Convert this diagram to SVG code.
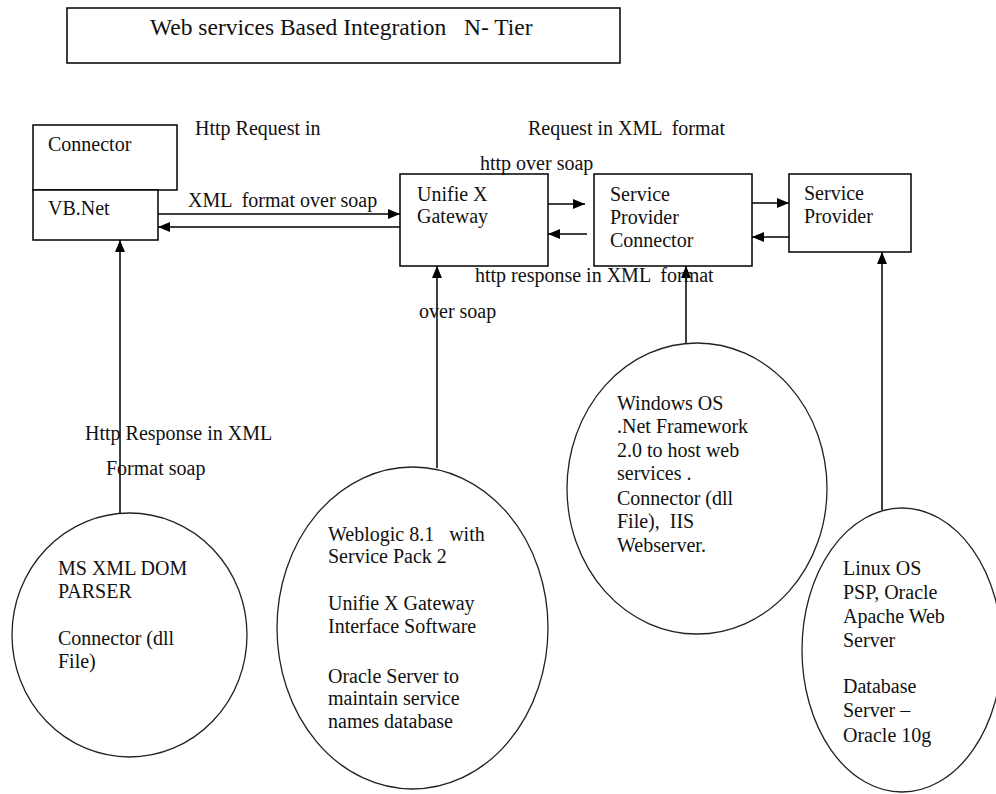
<svg xmlns="http://www.w3.org/2000/svg" width="996" height="794" viewBox="0 0 996 794" xml:space="preserve">
<style>
text{font-family:"Liberation Serif","Times New Roman",serif;font-size:20px;fill:#111;white-space:pre}
.box{fill:#fff;stroke:#000;stroke-width:1.5}
.ell{fill:#fff;stroke:#222;stroke-width:1.3}
.ln{stroke:#000;stroke-width:1.5;fill:none}
.title{font-size:23.5px}
</style>
<defs>
<marker id="ah" viewBox="0 0 12 10" refX="12" refY="5" markerWidth="12" markerHeight="10" markerUnits="userSpaceOnUse" orient="auto">
<path d="M0,0 L12,5 L0,10 z" fill="#000"/>
</marker>
</defs>
<rect width="996" height="794" fill="#fff"/>
<g id="title">
<rect class="box" x="67" y="8" width="553" height="55"/>
<text class="title" x="150" y="35">Web services Based Integration   N- Tier</text>
</g>
<g id="connector">
<rect class="box" x="33" y="125" width="144" height="65"/>
<text x="48" y="151">Connector</text>
</g>
<g id="vbnet">
<rect class="box" x="33" y="190" width="125" height="50"/>
<text x="48" y="215">VB.Net</text>
</g>
<g id="gateway">
<rect class="box" x="400" y="174" width="148" height="92"/>
<text x="417" y="201">Unifie X</text>
<text x="417" y="223">Gateway</text>
</g>
<g id="spconnector">
<rect class="box" x="594" y="174" width="158" height="92"/>
<text x="610" y="201">Service</text>
<text x="610" y="224">Provider</text>
<text x="610" y="247">Connector</text>
</g>
<g id="sprovider">
<rect class="box" x="789" y="174" width="122" height="78"/>
<text x="804" y="200">Service</text>
<text x="804" y="223">Provider</text>
</g>
<g id="connectors">
<line class="ln" x1="158" y1="214" x2="400" y2="214" marker-end="url(#ah)"/>
<line class="ln" x1="400" y1="227" x2="158" y2="227" marker-end="url(#ah)"/>
<line class="ln" x1="548" y1="204" x2="585" y2="204" marker-end="url(#ah)"/>
<line class="ln" x1="587" y1="234" x2="548" y2="234" marker-end="url(#ah)"/>
<line class="ln" x1="752" y1="203" x2="789" y2="203" marker-end="url(#ah)"/>
<line class="ln" x1="789" y1="237" x2="752" y2="237" marker-end="url(#ah)"/>
<line class="ln" x1="120" y1="513" x2="120" y2="240" marker-end="url(#ah)"/>
<line class="ln" x1="437" y1="468" x2="437" y2="266" marker-end="url(#ah)"/>
<line class="ln" x1="686" y1="343" x2="686" y2="266" marker-end="url(#ah)"/>
<line class="ln" x1="882" y1="510" x2="882" y2="252" marker-end="url(#ah)"/>
</g>
<g id="labels">
<text x="195" y="135">Http Request in</text>
<text x="188" y="207">XML  format over soap</text>
<text x="528" y="135">Request in XML  format</text>
<text x="480" y="170">http over soap</text>
<text x="475" y="282">http response in XML  format</text>
<text x="419" y="318">over soap</text>
<text x="85" y="440">Http Response in XML</text>
<text x="106" y="475">Format soap</text>
</g>
<g id="msxml">
<ellipse class="ell" cx="129.5" cy="635" rx="117.5" ry="122"/>
<text x="58" y="575">MS XML DOM</text>
<text x="58" y="598">PARSER</text>
<text x="58" y="645">Connector (dll</text>
<text x="58" y="668">File)</text>
</g>
<g id="weblogic">
<ellipse class="ell" cx="412.5" cy="628" rx="135.5" ry="161"/>
<text x="328" y="541">Weblogic 8.1   with</text>
<text x="328" y="563">Service Pack 2</text>
<text x="328" y="610">Unifie X Gateway</text>
<text x="328" y="633">Interface Software</text>
<text x="328" y="683">Oracle Server to</text>
<text x="328" y="705">maintain service</text>
<text x="328" y="728">names database</text>
</g>
<g id="windows">
<ellipse class="ell" cx="697" cy="488.5" rx="130" ry="145.5"/>
<text x="617" y="410">Windows OS</text>
<text x="617" y="433">.Net Framework</text>
<text x="617" y="457">2.0 to host web</text>
<text x="617" y="480">services .</text>
<text x="617" y="505">Connector (dll</text>
<text x="617" y="528">File),  IIS</text>
<text x="617" y="552">Webserver.</text>
</g>
<g id="linux">
<ellipse class="ell" cx="902" cy="650" rx="100" ry="142"/>
<text x="843" y="575">Linux OS</text>
<text x="843" y="599">PSP, Oracle</text>
<text x="843" y="623">Apache Web</text>
<text x="843" y="647">Server</text>
<text x="843" y="693">Database</text>
<text x="843" y="717">Server –</text>
<text x="843" y="742">Oracle 10g</text>
</g>
</svg>
